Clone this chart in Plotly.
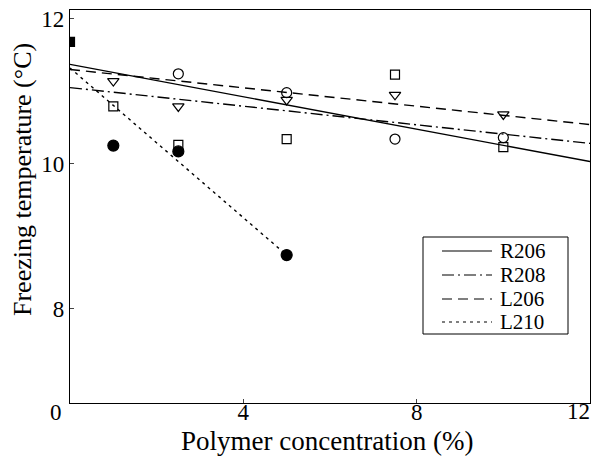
import plotly.graph_objects as go

# Fitted lines (values at line ends)
series_names = ["R206", "R208", "L206", "L210"]
line_x = [[0, 12], [0, 12], [0, 12], [0, 5]]
line_y = [[11.37, 10.03], [11.05, 10.28], [11.30, 10.54], [11.32, 8.74]]
line_dash = ["solid", "12px,4px,2px,4px", "10px,6px", "3px,4px"]

# Measured points
circle_x = [2.5, 5, 7.5, 10]
circle_y = [11.24, 10.98, 10.34, 10.36]
tri_x = [1, 2.5, 5, 7.5, 10]
tri_y = [11.14, 10.79, 10.88, 10.95, 10.68]
square_x = [1, 2.5, 5, 7.5, 10]
square_y = [10.79, 10.26, 10.34, 11.23, 10.23]
filled_x = [1, 2.5, 5]
filled_y = [10.25, 10.17, 8.74]
control_x = [0]
control_y = [11.68]

x_ticks = [0, 4, 8, 12]
x_tick_labels = ["0", "4", "8", "12"]
y_ticks = [8, 10, 12]
y_tick_labels = ["8", "10", "12"]
x_title = "Polymer concentration (%)"
y_title = "Freezing temperature (°C)"

FONT = "Liberation Serif"
W, H = 592, 459
ML, MR, MT, MB = 70, 2, 10, 56
PW, PH = W - ML - MR, H - MT - MB
NB = "\u00a0"

def px_x(p):
    return (p - ML) / PW

def px_y(p):
    return (H - MB - p) / PH

fig = go.Figure()

for name, xs, ys, d in zip(series_names, line_x, line_y, line_dash):
    fig.add_trace(go.Scatter(x=xs, y=ys, mode="lines", name=name, showlegend=False,
                             line=dict(color="black", width=1.4, dash=d)))

def pts(xs, ys, sym, size=10):
    fig.add_trace(go.Scatter(x=xs, y=ys, mode="markers", showlegend=False,
                             marker=dict(symbol=sym, size=size, color="black",
                                         line=dict(color="black", width=1.2))))

pts(circle_x, circle_y, "circle-open", 10)
pts(tri_x, tri_y, "triangle-down-open", 10)
pts(square_x, square_y, "square-open", 9)
pts(filled_x, filled_y, "circle", 11)
pts(control_x, control_y, "square", 9)

# Legend box drawn by hand (to match the compact original)
fig.add_shape(type="rect", xref="paper", yref="paper",
              x0=px_x(423), x1=px_x(568), y0=px_y(334), y1=px_y(237),
              line=dict(color="black", width=1), fillcolor="white", layer="above")
row_y = [251, 275, 299, 322]
for name, d, ry in zip(series_names, line_dash, row_y):
    fig.add_shape(type="line", xref="paper", yref="paper",
                  x0=px_x(442), x1=px_x(492), y0=px_y(ry), y1=px_y(ry),
                  line=dict(color="black", width=1.2, dash=d), layer="above")
    fig.add_annotation(xref="paper", yref="paper", x=px_x(499), y=px_y(ry),
                       text=name, showarrow=False, xanchor="left", yanchor="middle",
                       borderpad=0, font=dict(family=FONT, size=21, color="black"))

# Axis titles as annotations
fig.add_annotation(xref="paper", yref="paper", x=px_x(327), y=px_y(441),
                   text=x_title, showarrow=False, xanchor="center", yanchor="middle",
                   font=dict(family=FONT, size=27, color="black"))
fig.add_annotation(xref="paper", yref="paper", x=px_x(22), y=px_y(180),
                   text=y_title, showarrow=False, xanchor="center", yanchor="middle",
                   textangle=-90, font=dict(family=FONT, size=26, color="black"))

# the end labels sit slightly inward in the original; last one placed flush right
x_text = [x_tick_labels[0] + NB * 5, x_tick_labels[1], x_tick_labels[2], ""]
fig.add_annotation(xref="paper", yref="paper", x=px_x(591), y=px_y(412),
                   text=x_tick_labels[3], showarrow=False, xanchor="right", yanchor="middle",
                   borderpad=0, font=dict(family=FONT, size=23, color="black"))

fig.update_layout(
    width=W, height=H,
    margin=dict(l=ML, r=MR, t=MT, b=MB),
    paper_bgcolor="white", plot_bgcolor="white",
    font=dict(family=FONT, size=22, color="black"),
    showlegend=False,
)
fig.update_xaxes(range=[0, 12], tickvals=x_ticks, ticktext=x_text,
                 showgrid=False, zeroline=False, showline=True, linecolor="black",
                 linewidth=1.2, mirror=True, ticks="inside", ticklen=4,
                 ticklabeloverflow="allow", automargin=False, ticklabelstandoff=-12,
                 tickfont=dict(family=FONT, size=23))
fig.update_yaxes(range=[6.70, 12.12], tickvals=y_ticks, ticktext=y_tick_labels,
                 showgrid=False, zeroline=False, showline=True, linecolor="black",
                 linewidth=1.2, mirror=True, ticks="inside", ticklen=4,
                 ticklabeloverflow="allow", automargin=False,
                 tickfont=dict(family=FONT, size=23))

fig.write_html("out.html")
